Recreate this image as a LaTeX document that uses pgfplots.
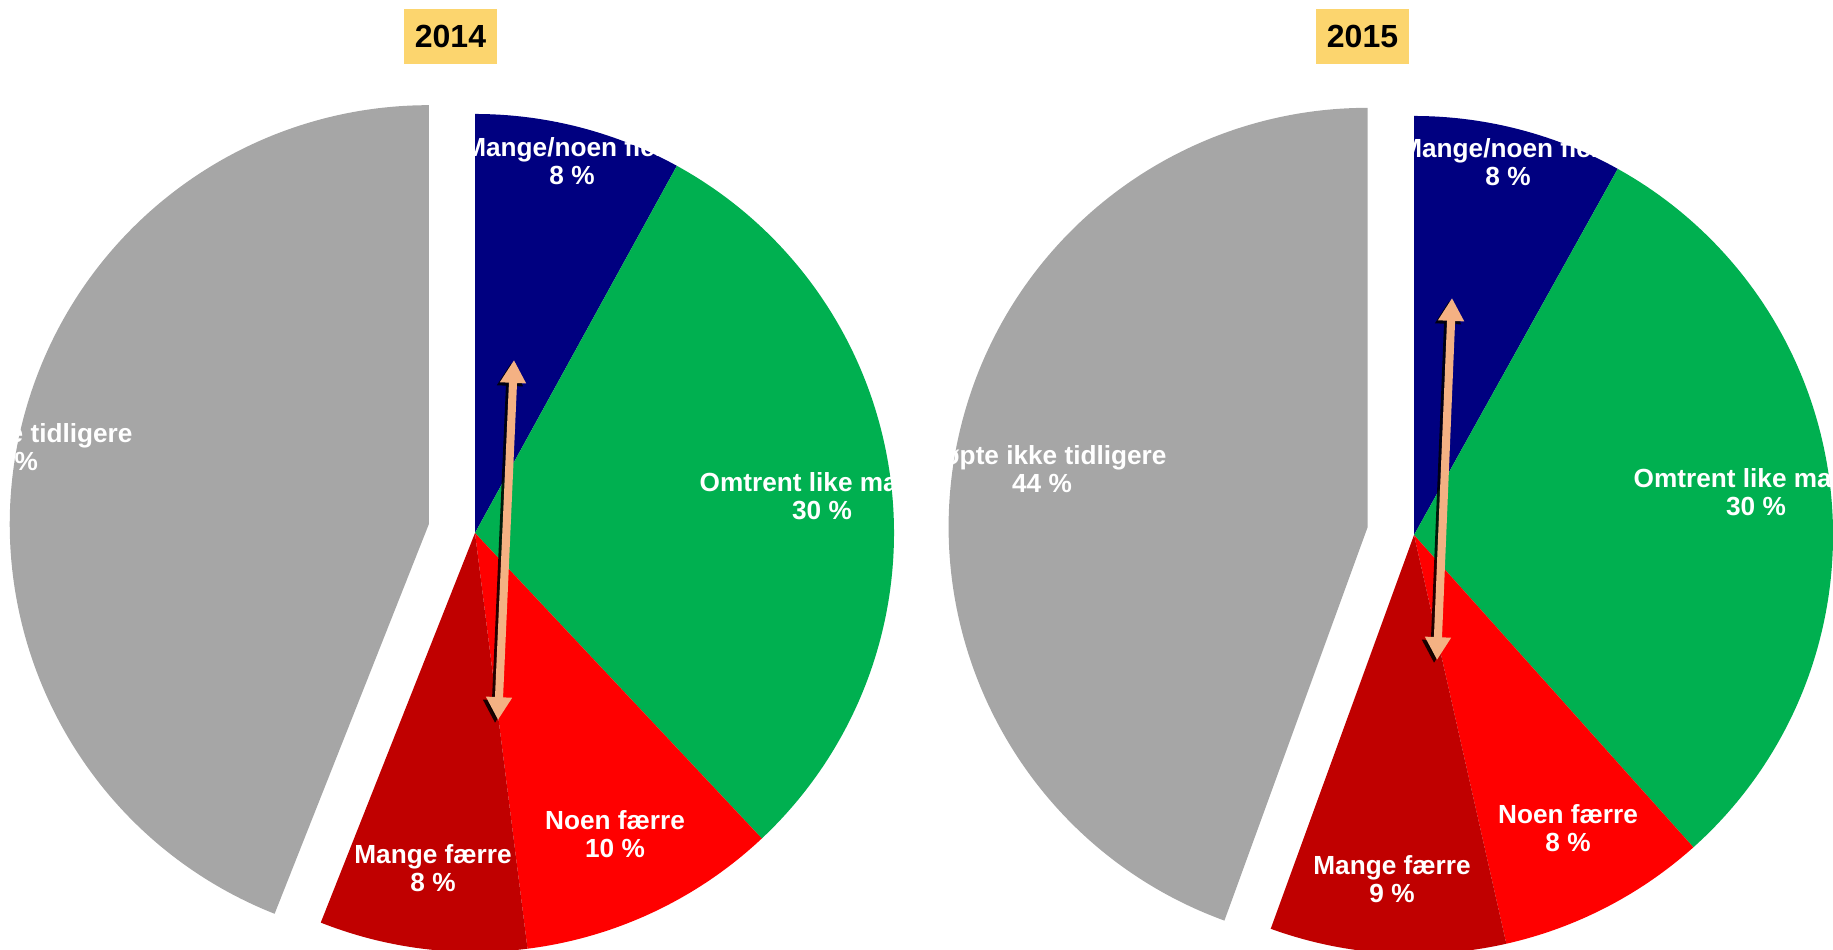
\documentclass[border=0pt]{standalone}
\usepackage{pgfplots}
\pgfplotsset{compat=1.18}
\usepackage{pgfplotstable}
\usepackage{fontspec}
\setmainfont{Liberation Sans}
\usetikzlibrary{arrows.meta}

\definecolor{flere}{HTML}{000080}
\definecolor{like}{HTML}{00B050}
\definecolor{noen}{HTML}{FF0000}
\definecolor{mange}{HTML}{C00000}
\definecolor{ikke}{HTML}{A6A6A6}
\definecolor{yearbox}{HTML}{FCD56E}
\definecolor{pil}{HTML}{F4B183}

% share (%), slice colour, explode (px), label centre (px)
\pgfplotstableread[col sep=comma]{
share,color,explode,lx,ly,label
8,flere,0,572,161,Mange/noen flere
30,like,0,822,496,Omtrent like mange
10,noen,0,615,834,Noen færre
8,mange,0,433,868,Mange færre
44,ikke,47,8,447,Kjøpte ikke tidligere
}\pieA

\pgfplotstableread[col sep=comma]{
share,color,explode,lx,ly,label
8,flere,0,1508,162,Mange/noen flere
30,like,0,1756,492,Omtrent like mange
8,noen,0,1568,828,Noen færre
9,mange,0,1392,879,Mange færre
44,ikke,47,1042,469,Kjøpte ikke tidligere
}\pieB

\tikzset{slicelabel/.style={text=white, align=center, inner sep=0pt,
  font=\fontsize{7.45}{8}\selectfont\bfseries}}

% #1 table, #2 centre x, #3 centre y, #4 radius (all in px)
\newcommand\drawpie[4]{%
  \pgfplotstablegetrowsof{#1}%
  \pgfmathtruncatemacro\lastrow{\pgfplotsretval-1}%
  \pgfmathsetmacro\rr{#4*0.01}%
  \gdef\total{0}%
  \foreach \i in {0,...,\lastrow}{%
    \pgfplotstablegetelem{\i}{share}\of{#1}%
    \pgfmathsetmacro\tmpsum{\total+\pgfplotsretval}\xdef\total{\tmpsum}}%
  \gdef\angA{0}%
  \foreach \i in {0,...,\lastrow}{%
    \pgfplotstablegetelem{\i}{share}\of{#1}\let\share\pgfplotsretval
    \pgfplotstablegetelem{\i}{color}\of{#1}\let\col\pgfplotsretval
    \pgfplotstablegetelem{\i}{explode}\of{#1}\let\ex\pgfplotsretval
    \pgfmathsetmacro\angB{\angA+360*\share/\total}%
    \pgfmathsetmacro\ox{#2+\ex*sin((\angA+\angB)/2)}%
    \pgfmathsetmacro\oy{#3-\ex*cos((\angA+\angB)/2)}%
    \pgfmathsetmacro\sa{90-\angA}%
    \pgfmathsetmacro\ea{90-\angB}%
    \fill[fill=\col] (axis cs:\ox,\oy) -- ++(\sa:\rr cm)
      arc[start angle=\sa, end angle=\ea, radius=\rr cm] -- cycle;
    \xdef\angA{\angB}}%
  \foreach \i in {0,...,\lastrow}{%
    \pgfplotstablegetelem{\i}{share}\of{#1}\let\share\pgfplotsretval
    \pgfplotstablegetelem{\i}{lx}\of{#1}\let\lx\pgfplotsretval
    \pgfplotstablegetelem{\i}{ly}\of{#1}\let\ly\pgfplotsretval
    \pgfplotstablegetelem{\i}{label}\of{#1}\let\lab\pgfplotsretval
    \node[slicelabel] at (axis cs:\lx,\ly) {\lab\\\share~\%};}%
}

\begin{document}
\begin{tikzpicture}
\begin{axis}[x=0.01cm, y=0.01cm, y dir=reverse,
    xmin=0, xmax=1833, ymin=0, ymax=949, hide axis, clip=true]
  \coordinate (bl) at (axis cs:0,949);
  \coordinate (tr) at (axis cs:1833,0);
  \pgfplotsextra{\drawpie{\pieA}{475}{533}{419}}
  \pgfplotsextra{\drawpie{\pieB}{1414}{535}{419}}

  % arrows with a dark drop shadow
  \addplot[black, opacity=0.85, line width=2.3pt,
    {Triangle[width=7pt,length=6.5pt]}-{Triangle[width=7pt,length=6.5pt]}]
    coordinates {(511,363) (495,723)};
  \addplot[pil, line width=2.3pt,
    {Triangle[width=7pt,length=6.5pt]}-{Triangle[width=7pt,length=6.5pt]}]
    coordinates {(514,360) (498,720)};
  \addplot[black, opacity=0.85, line width=2.3pt,
    {Triangle[width=7pt,length=6.5pt]}-{Triangle[width=7pt,length=6.5pt]}]
    coordinates {(1449,301) (1434,663)};
  \addplot[pil, line width=2.3pt,
    {Triangle[width=7pt,length=6.5pt]}-{Triangle[width=7pt,length=6.5pt]}]
    coordinates {(1452,298) (1437,660)};

  \node[fill=yearbox, minimum width=0.93cm, minimum height=0.55cm, inner sep=0pt,
    font=\fontsize{9.1}{10}\selectfont\bfseries] at (axis cs:450.5,36.5) {2014};
  \node[fill=yearbox, minimum width=0.93cm, minimum height=0.55cm, inner sep=0pt,
    font=\fontsize{9.1}{10}\selectfont\bfseries] at (axis cs:1362.5,36.5) {2015};
\end{axis}
\pgfresetboundingbox
\useasboundingbox (bl) rectangle (tr);
\end{tikzpicture}
\end{document}
